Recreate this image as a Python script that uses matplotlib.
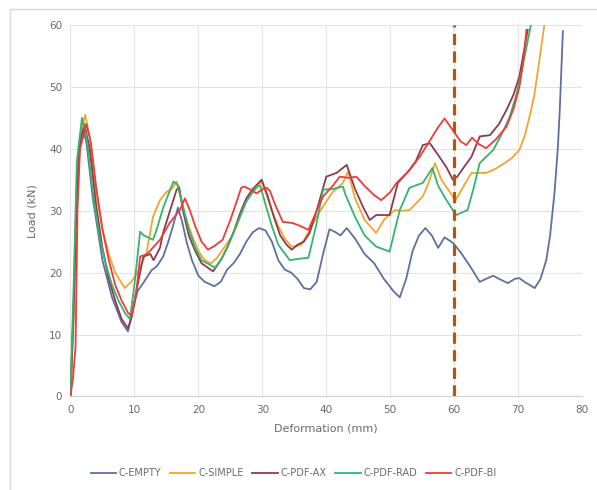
import matplotlib
matplotlib.use('Agg')
import matplotlib.pyplot as plt
from matplotlib.patches import Rectangle

# load-deformation curves
empty_x = [0, 0.5, 1, 1.5, 2, 2.5, 3.5, 5, 6.5, 8, 9, 9.5, 10.5, 11.5, 12.7, 13.5, 14.5, 15.3, 16, 16.8, 17.4, 18.2, 19, 20, 21, 22.5, 23.5, 24.5, 25.5, 26.5, 27.5, 28.5, 29.5, 30.5, 31.5, 32.5, 33.5, 34.5, 35.5, 36.5, 37.5, 38.5, 39.5, 40.5, 41.5, 42.2, 43.2, 44.5, 46, 47.5, 49, 50.5, 51.5, 52.5, 53.5, 54.5, 55.5, 56.5, 57.5, 58.5, 59.8, 61, 62.5, 64, 65, 66.1, 67, 68.4, 69.5, 70.2, 71, 72.6, 73.5, 74.4, 75, 75.7, 76.2, 76.5, 77]
empty_y = [0, 15, 35, 42, 43, 41, 32, 22, 16, 12, 10.5, 13, 17, 18.5, 20.4, 21, 22.6, 25, 27.4, 30.5, 28.5, 24.8, 22, 19.5, 18.5, 17.8, 18.5, 20.5, 21.5, 23, 25, 26.5, 27.2, 26.8, 25, 22, 20.5, 20, 19, 17.5, 17.3, 18.5, 23, 27, 26.5, 26, 27.2, 25.5, 23, 21.5, 19, 17, 16, 19, 23.5, 26, 27.2, 26, 24, 25.7, 24.8, 23.3, 21, 18.5, 19, 19.5, 19, 18.3, 19, 19.1, 18.5, 17.5, 19, 22, 26, 33, 40, 46, 59]

simple_x = [0, 0.5, 1, 1.5, 2.3, 3, 4, 5, 6, 7, 8.5, 9.5, 10.5, 11.9, 12.9, 14, 15, 16, 16.6, 17.2, 18, 19, 20, 21, 22, 23, 24, 25, 26, 27, 28, 29, 29.9, 30.5, 31.5, 32.5, 33.5, 34.6, 35.5, 36.1, 37.4, 38.5, 39.5, 41, 42.6, 43.4, 44.5, 46, 47.8, 49, 50.7, 52, 53, 55.1, 56, 57, 58, 59.8, 60.1, 61.5, 62.7, 64, 65, 66.5, 67.9, 69, 70.2, 71, 71.8, 72.5, 73.1, 74.1]
simple_y = [0, 12, 32, 42, 45.5, 42, 33, 27, 23, 20, 17.5, 18.5, 20, 23.2, 29, 31.7, 33, 33.7, 34.7, 32.5, 29, 26, 23.5, 22, 21.5, 22.5, 24, 25.5, 27.5, 30.5, 32.5, 33.5, 34.7, 33, 30, 27.5, 25.5, 24.2, 24.3, 24.5, 26.9, 29, 30.7, 33, 34.5, 36.3, 32, 28.5, 26.4, 28.5, 30.1, 30, 30.1, 32.3, 34.5, 37.7, 35, 32.3, 31.5, 34, 36.1, 36.1, 36.1, 36.8, 37.7, 38.5, 39.8, 42, 45.2, 48.5, 52.7, 60]

ax_x = [0, 0.5, 1, 1.5, 2.2, 3, 4, 5, 6, 7, 8, 9, 9.5, 10.5, 11.4, 12.5, 13, 14, 14.5, 15.2, 16.6, 17, 17.6, 18.5, 19.5, 20.5, 22.3, 23.5, 24.5, 25.5, 26.5, 27.5, 28.5, 29.9, 30.8, 31.8, 32.8, 33.8, 34.6, 35.5, 36.5, 37.4, 38.5, 40, 41.6, 43.2, 44.5, 45.8, 46.8, 47.8, 49.9, 51.2, 53, 54, 55.1, 56.2, 57.5, 58.8, 59.8, 60.5, 61.5, 62.7, 64, 65.6, 67, 68.2, 69.3, 70.2, 71.5]
ax_y = [0, 14, 33, 41, 44, 40, 31, 24, 19, 15.5, 12.5, 11, 12.5, 18, 22.6, 23, 22, 24, 26.5, 28.8, 33.4, 33.8, 30, 26, 23.5, 21.5, 20.2, 22, 24, 26.5, 29.5, 32, 33.5, 35, 32.5, 29, 26, 24.5, 23.7, 24.5, 25, 26.4, 30, 35.5, 36.1, 37.4, 33.5, 30.5, 28.5, 29.3, 29.3, 34.5, 36.6, 38, 40.6, 40.9, 39, 37, 35, 35.5, 37, 38.7, 42, 42.2, 44, 46.3, 48.8, 51.7, 59.2]

rad_x = [0, 0.5, 1, 1.8, 2.5, 3.5, 4.5, 5.5, 6.5, 7.5, 8.5, 9.3, 10, 10.9, 11.5, 12.9, 13.5, 14.5, 16.1, 16.7, 17.5, 18.5, 19.5, 20.5, 22.6, 23.5, 24.5, 25.5, 26.5, 27.5, 28.5, 29.1, 29.7, 30.5, 31.5, 32.5, 34.3, 35.5, 37.2, 37.4, 38.5, 39.5, 41, 42.6, 43, 44.5, 46, 47.8, 49.9, 51.5, 53, 55.1, 56.6, 57.5, 58.8, 60.3, 62.1, 63, 64, 66.1, 67.5, 68.7, 69.8, 70.7, 72]
rad_y = [0, 18, 38, 45, 42, 33, 26, 21.5, 18, 15.5, 13.5, 12.5, 18, 26.6, 26, 25.3, 27, 30.5, 34.7, 34.3, 31, 27, 24, 22, 20.8, 22, 24, 26.5, 29, 31.5, 33, 33.9, 34, 31, 27.5, 24.5, 22, 22.2, 22.4, 23.2, 28, 33.4, 33.5, 33.9, 32.6, 29, 26, 24.2, 23.4, 30.1, 33.7, 34.5, 36.9, 34, 31.7, 29.3, 30.1, 33.5, 37.7, 39.8, 42.5, 45.2, 49, 53.3, 60]

bi_x = [0, 0.4, 0.8, 1.1, 1.5, 2.5, 3.2, 4, 5, 6, 7, 8, 9, 9.6, 10.3, 10.9, 12, 14, 15.5, 17.1, 17.9, 18.7, 19.5, 20.5, 21.5, 22.5, 23.8, 25, 26, 26.7, 27.2, 28, 29.1, 30.1, 30.7, 31.2, 32, 33.2, 34.8, 36, 37.2, 38.5, 39.5, 41, 42.1, 43.5, 44.7, 46, 47.5, 48.6, 50, 51, 53, 54.6, 56, 57.5, 58.5, 59.8, 61, 61.9, 62.8, 63.8, 65, 66.5, 68.2, 69.3, 70.2, 70.8, 71.3]
bi_y = [0, 3, 8, 30, 40, 44, 41, 34, 27, 22, 18, 15.5, 13.5, 13, 17, 22.6, 23, 25.3, 28, 30.1, 32, 30, 27.5, 25, 23.7, 24.3, 25.3, 28.5, 31.5, 33.7, 33.9, 33.5, 32.8, 33.5, 33.7, 33.2, 31, 28.2, 28, 27.5, 26.9, 30, 32.3, 34, 35.5, 35.3, 35.5, 34, 32.5, 31.7, 33, 34.5, 36.5, 38.7, 41, 43.5, 44.9, 43, 41.2, 40.6, 41.8, 40.8, 40.1, 41.5, 43.6, 46.5, 50, 54, 59.2]

names = ['C-EMPTY', 'C-SIMPLE', 'C-PDF-AX', 'C-PDF-RAD', 'C-PDF-BI']
colors = ['#5f6f9f', '#f3a531', '#8c3b4f', '#33b56e', '#ee3b3b']
cutoff = 60

fig = plt.figure(figsize=(5.97, 4.90), dpi=100)
ax = fig.add_axes([0.118, 0.191, 0.857, 0.758])

# light chart frame
fig.patches.append(Rectangle((10/597, -0.01), 1.0, 1 - 9.5/490 + 0.01, transform=fig.transFigure,
                             fill=False, edgecolor='#d9d9d9', linewidth=1.0))

series = [(empty_x, empty_y), (simple_x, simple_y), (ax_x, ax_y), (rad_x, rad_y), (bi_x, bi_y)]
for (xs, ys), name, c in zip(series, names, colors):
    ax.plot(xs, ys, color=c, lw=1.3, label=name)

ax.plot([cutoff, cutoff], [0, 60], color='#b5560f', lw=2.3, linestyle=(0, (3.5, 2)))

ax.set_xlim(0, 80)
ax.set_ylim(0, 60)
ax.set_xticks(range(0, 81, 10))
ax.set_yticks(range(0, 61, 10))
ax.grid(True, color='#e3e3e3', lw=0.8)
ax.set_axisbelow(True)
for s in ['top', 'right', 'left']:
    ax.spines[s].set_visible(False)
ax.spines['bottom'].set_color('#d0d0d0')
ax.tick_params(length=0, labelsize=7.5, colors='#6a6a6a', pad=6)
ax.set_xlabel('Deformation (mm)', fontsize=8, color='#6a6a6a', labelpad=6)
ax.set_ylabel('Load (kN)', fontsize=8, color='#6a6a6a', labelpad=8)

ax.legend(loc='upper center', bbox_to_anchor=(0.436, -0.17), ncol=5, frameon=False,
          fontsize=7, labelcolor='#6a6a6a', handlelength=2.6, columnspacing=0.9, handletextpad=0.3)

fig.savefig('out.png', dpi=100)
